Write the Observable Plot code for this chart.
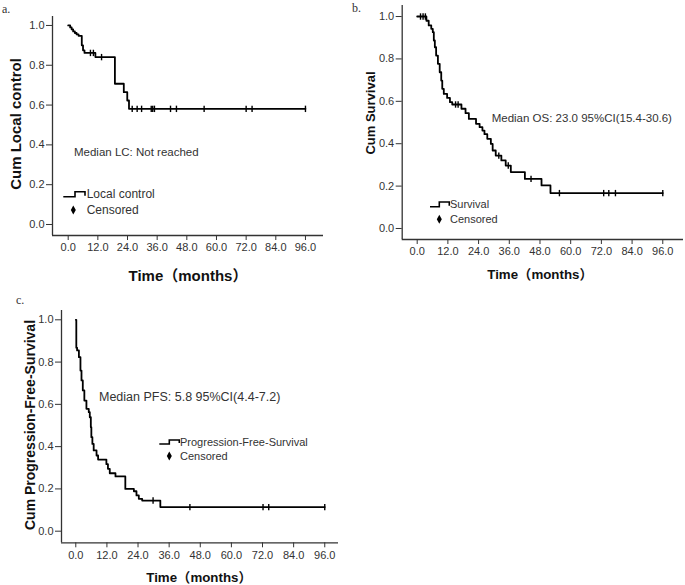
<!DOCTYPE html>
<html><head><meta charset="utf-8">
<script src="https://cdn.jsdelivr.net/npm/d3@7"></script>
<script src="https://cdn.jsdelivr.net/npm/@observablehq/plot@0.6"></script>
<style>
body{margin:0;background:#fff;}
#root{position:relative;width:685px;height:585px;overflow:hidden;background:#fff;font-family:"Liberation Sans",Arial,"Noto Sans CJK SC",sans-serif;color:#333;}
.abs{position:absolute;white-space:nowrap;line-height:1;}
.vc{transform:translateY(-50%);}
.ttl{font-weight:bold;color:#111;font-family:"Liberation Sans",Arial,"Noto Sans CJK SC",sans-serif;}
.rot{transform:translate(-50%,-50%) rotate(-90deg);}
.hc{transform:translate(-50%,-50%);}
.lbl{font-family:"Liberation Serif","Times New Roman",serif;color:#333;}
svg.sym{position:absolute;overflow:visible;}
</style></head><body><div id="root"></div>
<script>
// ---------- data ----------
const xTicks = [0, 12, 24, 36, 48, 60, 72, 84, 96];
const yTicks = [0, 0.2, 0.4, 0.6, 0.8, 1.0];
const followUpEnd = 96;

// a. Local control
const lcTime = [0.8, 1.4, 2.0, 2.7, 3.4, 4.2, 5.5, 6.0, 6.6, 11.0, 18.9, 22.5, 23.9, 24.6];
const lcSurv = [0.99, 0.98, 0.97, 0.962, 0.955, 0.948, 0.90, 0.875, 0.862, 0.841, 0.707, 0.665, 0.623, 0.581];
const lcCensored = [9.0, 10.2, 13.5, 25.9, 27.9, 29.7, 33.6, 34.2, 34.9, 41.4, 43.8, 55.0, 72.0, 74.4, 96.0];

// b. Overall survival
const osTime = [3.6, 4.5, 5.5, 6.1, 6.5, 6.9, 7.4, 8.1, 8.8, 9.4, 9.8, 10.4, 11.7, 12.8, 13.7, 17.3, 18.9, 20.2, 23.0, 24.4, 25.5, 26.3, 27.4, 28.8, 29.5, 30.7, 32.9, 34.6, 36.6, 42.1, 48.6, 52.1];
const osSurv = [0.98, 0.958, 0.942, 0.926, 0.887, 0.855, 0.816, 0.777, 0.737, 0.698, 0.659, 0.635, 0.616, 0.596, 0.585, 0.565, 0.544, 0.517, 0.494, 0.478, 0.462, 0.445, 0.423, 0.399, 0.368, 0.344, 0.321, 0.297, 0.266, 0.234, 0.203, 0.167];
const osCensored = [1.3, 2.3, 3.2, 15.0, 16.0, 31.9, 35.6, 44.5, 55.6, 72.9, 74.9, 77.5, 96.0];

// c. Progression-free survival
const pfsTime = [0.2, 0.5, 1.2, 1.8, 2.2, 2.7, 3.3, 4.1, 5.0, 5.4, 5.8, 6.0, 6.4, 6.9, 8.0, 8.6, 11.8, 12.4, 13.1, 15.3, 19.1, 22.4, 23.4, 24.3, 25.6, 32.6];
const pfsSurv = [0.868, 0.855, 0.823, 0.76, 0.713, 0.666, 0.618, 0.579, 0.563, 0.539, 0.492, 0.445, 0.413, 0.382, 0.358, 0.339, 0.317, 0.295, 0.274, 0.259, 0.2, 0.189, 0.169, 0.153, 0.145, 0.114];
const pfsCensored = [29.8, 44.0, 72.2, 74.4, 96.0];

// ---------- helpers ----------
const root = document.getElementById("root");
const fmt = d => d.toFixed(1);
const tickSymbol = { draw(ctx, size) { const h = Math.sqrt(size / Math.PI); ctx.moveTo(0, -h); ctx.lineTo(0, h); } };

function addText(txt, cls, css) {
  const d = document.createElement("div");
  d.className = "abs " + cls;
  d.textContent = txt;
  Object.assign(d.style, css);
  root.appendChild(d);
  return d;
}

function legend(x0, x1, xs, yLow, yHigh, dx, dy, textLeft, fs, name) {
  const ns = "http://www.w3.org/2000/svg";
  const s = document.createElementNS(ns, "svg");
  s.setAttribute("class", "sym");
  s.setAttribute("width", 685); s.setAttribute("height", 585);
  s.style.left = "0px"; s.style.top = "0px";
  const p = document.createElementNS(ns, "path");
  p.setAttribute("d", `M${x0},${yLow}H${xs}V${yHigh}H${x1}V${yLow - 1}`);
  p.setAttribute("fill", "none"); p.setAttribute("stroke", "#000"); p.setAttribute("stroke-width", 1.6);
  s.appendChild(p);
  const g = document.createElementNS(ns, "path");
  g.setAttribute("d", `M${dx},${dy - 4.5}L${dx + 2.5},${dy}L${dx},${dy + 4.5}L${dx - 2.5},${dy}Z`);
  g.setAttribute("fill", "#000");
  s.appendChild(g);
  root.appendChild(s);
  addText(name, "vc", {left: textLeft + "px", top: ((yLow + yHigh) / 2) + "px", fontSize: fs + "px"});
  addText("Censored", "vc", {left: textLeft + "px", top: dy + "px", fontSize: fs + "px"});
}

function panel(o) {
  const steps = [{t: 0, v: 1}, ...o.times.map((t, i) => ({t, v: o.surv[i]})), {t: followUpEnd, v: o.surv[o.surv.length - 1]}];
  const vAt = t => { let v = 1; o.times.forEach((ti, i) => { if (ti <= t) v = o.surv[i]; }); return v; };
  const cens = o.censored.map(t => ({t, v: vAt(t)}));
  const chart = Plot.plot({
    width: o.width, height: o.height,
    marginLeft: o.mL, marginRight: o.mR, marginTop: o.mT, marginBottom: o.mB,
    style: {background: "transparent", fontFamily: "Liberation Sans, Arial, sans-serif", color: "#333"},
    x: {domain: o.xDom, label: null},
    y: {domain: o.yDom, label: null},
    marks: [
      Plot.ruleX([o.xDom[0]], {stroke: "#333", strokeWidth: 1.3}),
      Plot.ruleY([o.yDom[0]], {stroke: "#333", strokeWidth: 1.3}),
      Plot.axisX({ticks: xTicks, tickFormat: fmt, tickSize: 5, tickPadding: 3, fontSize: 11, fill: "#333", stroke: "#333", label: null}),
      Plot.axisY({ticks: yTicks, tickFormat: fmt, tickSize: 6, tickPadding: 2, fontSize: 11, fill: "#333", stroke: "#333", label: null}),
      Plot.line(steps, {x: "t", y: "v", curve: "step-after", stroke: "#000", strokeWidth: 1.8}),
      Plot.dot(cens, {x: "t", y: "v", symbol: tickSymbol, r: 3.2, stroke: "#000", strokeWidth: 1.4})
    ]
  });
  chart.style.position = "absolute";
  chart.style.left = o.left + "px";
  chart.style.top = o.top + "px";
  root.appendChild(chart);
}

// ---------- panel a ----------
panel({left: 0, top: 0, width: 340, height: 280, mL: 52, mR: 17, mT: 16, mB: 45,
  xDom: [-6.35, 103.3], yDom: [-0.0553, 1.045], times: lcTime, surv: lcSurv, censored: lcCensored});
addText("a.", "lbl vc", {left: "2px", top: "9px", fontSize: "12px"});
addText("Cum Local control", "ttl rot", {left: "15px", top: "124px", fontSize: "15px"});
addText("Time（months）", "ttl hc", {left: "188px", top: "275px", fontSize: "15px"});
addText("Median LC: Not reached", "vc", {left: "74px", top: "153px", fontSize: "11.5px"});
legend(63.3, 85, 75, 196.7, 191.7, 73.3, 210, 86.7, 12, "Local control");

// ---------- panel b ----------
panel({left: 340, top: 0, width: 345, height: 280, mL: 61.7, mR: 2, mT: 5, mB: 41,
  xDom: [-5.86, 104.1], yDom: [-0.0519, 1.052], times: osTime, surv: osSurv, censored: osCensored});
addText("b.", "lbl vc", {left: "352px", top: "8px", fontSize: "12px"});
addText("Cum Survival", "ttl rot", {left: "370px", top: "113px", fontSize: "13px"});
addText("Time（months）", "ttl hc", {left: "540px", top: "275px", fontSize: "13.3px"});
addText("Median OS: 23.0 95%CI(15.4-30.6)", "vc", {left: "491.7px", top: "119px", fontSize: "11.5px"});
legend(430, 449.3, 439.3, 206.7, 202, 439.3, 219.3, 450, 11, "Survival");

// ---------- panel c ----------
panel({left: 0, top: 290, width: 345, height: 295, mL: 61, mR: 7, mT: 20, mB: 42.7,
  xDom: [-5.51, 101.3], yDom: [-0.0549, 1.044], times: pfsTime, surv: pfsSurv, censored: pfsCensored});
addText("c.", "lbl vc", {left: "16px", top: "300px", fontSize: "12px"});
addText("Cum Progression-Free-Survival", "ttl rot", {left: "30px", top: "425px", fontSize: "14px"});
addText("Time（months）", "ttl hc", {left: "199px", top: "577.7px", fontSize: "13.3px"});
addText("Median PFS: 5.8 95%CI(4.4-7.2)", "vc", {left: "99px", top: "396.7px", fontSize: "12.5px"});
legend(159.3, 179.3, 169.3, 444, 440, 169.3, 456, 180, 11, "Progression-Free-Survival");
</script></body></html>
